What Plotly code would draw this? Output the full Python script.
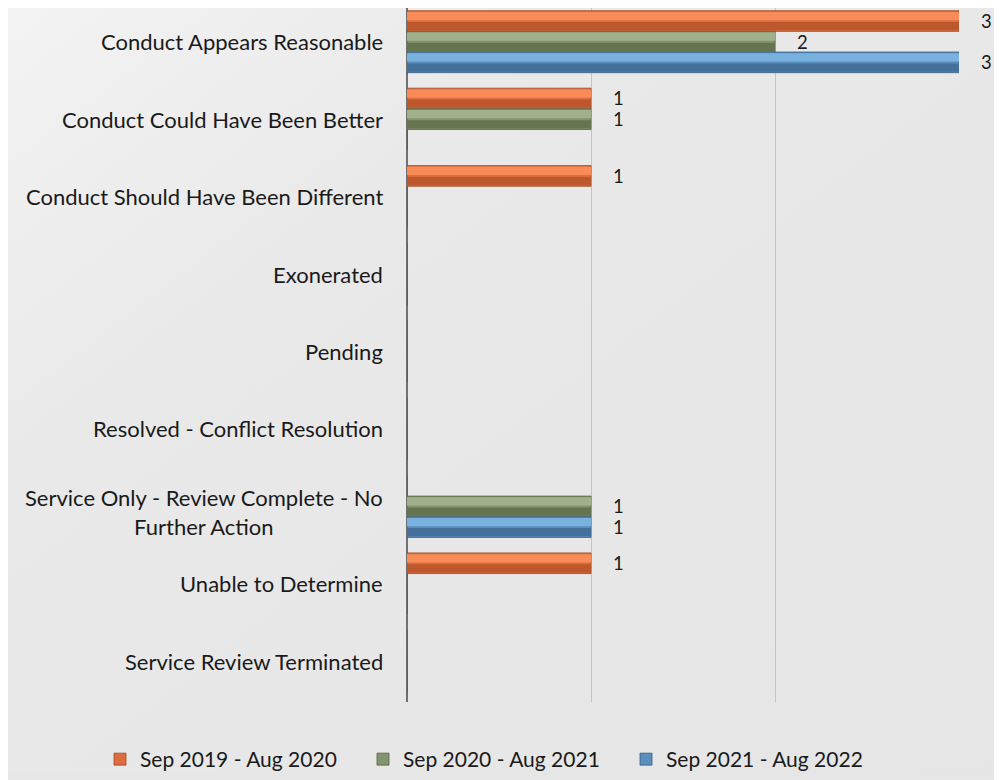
import base64
import plotly.graph_objects as go

# ---------------- data ----------------
categories = [
    "Conduct Appears Reasonable",
    "Conduct Could Have Been Better",
    "Conduct Should Have Been Different",
    "Exonerated",
    "Pending",
    "Resolved - Conflict Resolution",
    "Service Only - Review Complete - No<br>Further Action",
    "Unable to Determine",
    "Service Review Terminated",
]
series_names = ["Sep 2019 - Aug 2020", "Sep 2020 - Aug 2021", "Sep 2021 - Aug 2022"]
values_2019_2020 = [3, 1, 1, 0, 0, 0, 0, 1, 0]
values_2020_2021 = [2, 1, 0, 0, 0, 0, 1, 0, 0]
values_2021_2022 = [3, 0, 0, 0, 0, 0, 1, 0, 0]
x_ticks = [0, 1, 2, 3]

# ---------------- styles ----------------
series_values = [values_2019_2020, values_2020_2021, values_2021_2022]
dark_cols = ["#bd572d", "#66744f", "#43719b"]
mid_cols = ["#dc6d3e", "#839470", "#5b8dbd"]
light_cols = ["#f98b57", "#a1b08b", "#79b1df"]
edge_cols = ["#9e4622", "#55613f", "#355d80"]
FONT = "Lato"
FS = 22

# page is offset by the 8px body margin -> figure is 994 x 772
W, H = 994, 772
L, R, T, B = 399, 43, 0, 72
PW, PH = W - L - R, H - T - B

fig = go.Figure()

group = 0.8
bw = group / 3
for i, (name, vals) in enumerate(zip(series_names, series_values)):
    off = -group / 2 + i * bw
    txt = ["\u00a0\u00a0\u00a0\u00a0" + str(v) if v else "" for v in vals]
    fig.add_trace(go.Bar(
        name=name, y=categories, x=vals, orientation="h",
        offset=off, width=bw,
        marker=dict(color=mid_cols[i], line=dict(color=edge_cols[i], width=0.8)),
        text=txt, textposition="outside", constraintext="none", cliponaxis=False,
        textfont=dict(family=FONT, size=18.5, color="#1a1a1a"),
        hoverinfo="x+y+name",
    ))
    # bottom darker band
    fig.add_trace(go.Bar(
        y=categories, x=vals, orientation="h",
        offset=off + bw * 0.55, width=bw * 0.40,
        marker=dict(color=dark_cols[i], line=dict(width=0)),
        showlegend=False, hoverinfo="skip",
    ))
    # top lighter band
    fig.add_trace(go.Bar(
        y=categories, x=vals, orientation="h",
        offset=off + bw * 0.06, width=bw * 0.40,
        marker=dict(color=light_cols[i], line=dict(width=0)),
        showlegend=False, hoverinfo="skip",
    ))

# category labels (centered multi-line, right aligned block)
for c in categories:
    fig.add_annotation(
        x=0, xref="paper", y=c, yref="y", xanchor="right", yanchor="middle",
        xshift=-22, yshift=(-6 if "<br>" in c else 0), text=c, showarrow=False,
        align="center",
        font=dict(family=FONT, size=FS, color="#1a1a1a"),
    )

# background gradient
svg = (
    '<svg xmlns="http://www.w3.org/2000/svg" width="994" height="772" '
    'preserveAspectRatio="none" viewBox="0 0 994 772">'
    '<defs><linearGradient id="g" x1="0" y1="0" x2="1" y2="1">'
    '<stop offset="0" stop-color="#f3f3f3"/>'
    '<stop offset="0.3" stop-color="#e9e9e9"/>'
    '<stop offset="1" stop-color="#e5e5e5"/>'
    '</linearGradient></defs>'
    '<rect width="994" height="772" fill="url(#g)"/></svg>'
)
src = "data:image/svg+xml;base64," + base64.b64encode(svg.encode()).decode()
fig.add_layout_image(
    source=src, xref="paper", yref="paper",
    x=-L / PW, y=1 + T / PH, sizex=W / PW, sizey=H / PH,
    xanchor="left", yanchor="top", sizing="stretch", layer="below",
)

fig.update_layout(
    width=W, height=H,
    margin=dict(l=L, r=R, t=T, b=B, pad=0),
    barmode="overlay",
    paper_bgcolor="#e6e6e6",
    plot_bgcolor="rgba(0,0,0,0)",
    font=dict(family=FONT, size=FS, color="#1a1a1a"),
    showlegend=True,
    legend=dict(
        orientation="h", x=(92 - L) / PW, xanchor="left",
        y=-58 / PH, yanchor="middle",
        entrywidth=218, entrywidthmode="pixels",
        font=dict(family=FONT, size=21, color="#1a1a1a"),
        bgcolor="rgba(0,0,0,0)", itemclick=False,
    ),
    xaxis=dict(
        range=[0, 3], tickvals=x_ticks, showticklabels=False,
        showgrid=True, gridcolor="#c3c3c3", gridwidth=1,
        zeroline=True, zerolinecolor="#707070", zerolinewidth=1.5,
        showline=False, fixedrange=True,
    ),
    yaxis=dict(
        categoryorder="array", categoryarray=categories,
        range=[8.525, -0.435], showticklabels=False, showgrid=False,
        zeroline=False, showline=False, fixedrange=True,
    ),
)

fig.write_html("out.html")
